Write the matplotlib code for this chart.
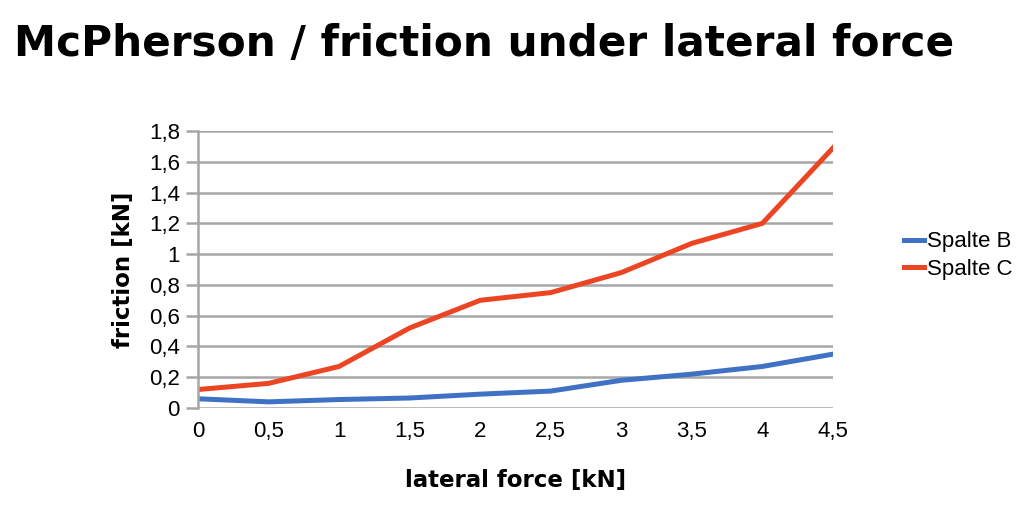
import matplotlib
matplotlib.use("Agg")
import matplotlib.pyplot as plt
from matplotlib.ticker import FuncFormatter

x = [0, 0.5, 1, 1.5, 2, 2.5, 3, 3.5, 4, 4.5]
spalte_b = [0.06, 0.04, 0.055, 0.065, 0.09, 0.11, 0.18, 0.22, 0.27, 0.35]
spalte_c = [0.12, 0.16, 0.27, 0.52, 0.70, 0.75, 0.88, 1.07, 1.20, 1.69]
yticks = [0, 0.2, 0.4, 0.6, 0.8, 1.0, 1.2, 1.4, 1.6, 1.8]

plt.rcParams['font.family'] = ['Liberation Sans', 'DejaVu Sans']

fig = plt.figure(figsize=(10.3, 5.27), dpi=100)
ax = fig.add_axes([0.1922, 0.2258, 0.8087 - 0.1922, 0.7514 - 0.2258])

ax.plot(x, spalte_b, color='#3f72c4', lw=3.6, label='Spalte B', solid_joinstyle='round')
ax.plot(x, spalte_c, color='#ec4524', lw=3.6, label='Spalte C', solid_joinstyle='round')

ax.set_xlim(0, 4.5)
ax.set_ylim(0, 1.8)
ax.set_yticks(yticks)
ax.set_xticks(x)
fmt = FuncFormatter(lambda v, p: ('%g' % round(v, 2)).replace('.', ','))
ax.xaxis.set_major_formatter(fmt)
ax.yaxis.set_major_formatter(fmt)

ax.grid(axis='y', color='#a6a6a6', lw=1.8)
ax.set_axisbelow(True)
for s in ['top', 'right', 'bottom']:
    ax.spines[s].set_visible(False)
ax.spines['left'].set_color('#a6a6a6')
ax.spines['left'].set_linewidth(1.8)
ax.tick_params(axis='y', length=9, width=1.8, color='#a6a6a6', pad=4, labelsize=16)
ax.tick_params(axis='x', length=0, pad=9, labelsize=16)

ax.set_xlabel('lateral force [kN]', fontsize=16.5, fontweight='bold', labelpad=20,
              family='DejaVu Sans')
ax.set_ylabel('friction [kN]', fontsize=16.5, fontweight='bold', labelpad=10,
              family='DejaVu Sans')

fig.text(0.014, 0.893, 'McPherson / friction under lateral force', fontsize=30.4,
         fontweight='bold', ha='left', va='baseline', family='DejaVu Sans')

ax.legend(loc='center left', bbox_to_anchor=(1.08, 0.55), frameon=False,
          prop={'family': 'Liberation Sans', 'size': 16},
          handlelength=0.9, handletextpad=0.15, labelspacing=0.3)

fig.savefig('out.png', dpi=100)
